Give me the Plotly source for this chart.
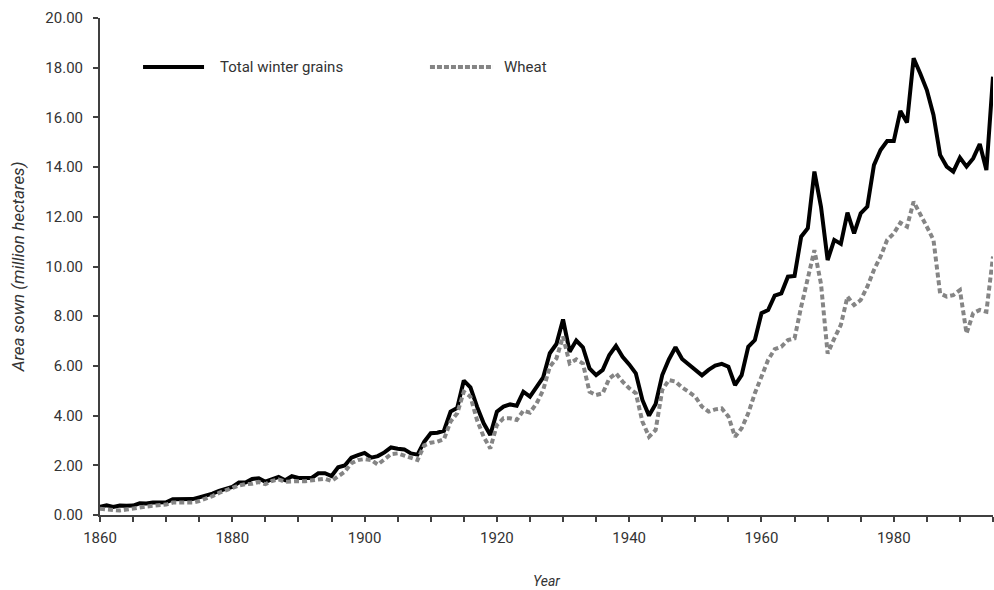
import plotly.graph_objects as go

years = list(range(1860, 1996))

total_winter_grains = [
    0.33, 0.39, 0.32, 0.38, 0.37, 0.38, 0.47, 0.46, 0.50, 0.50,   # 1860-1869
    0.51, 0.63, 0.63, 0.63, 0.64, 0.71, 0.78, 0.86, 0.97, 1.06,   # 1870-1879
    1.13, 1.31, 1.31, 1.45, 1.48, 1.34, 1.45, 1.53, 1.40, 1.56,   # 1880-1889
    1.49, 1.48, 1.49, 1.68, 1.68, 1.57, 1.92, 1.99, 2.31, 2.41,   # 1890-1899
    2.50, 2.31, 2.37, 2.52, 2.72, 2.67, 2.64, 2.48, 2.43, 2.94,   # 1900-1909
    3.29, 3.31, 3.39, 4.16, 4.31, 5.41, 5.14, 4.36, 3.69, 3.22,   # 1910-1919
    4.16, 4.36, 4.45, 4.40, 4.96, 4.76, 5.16, 5.54, 6.51, 6.88,   # 1920-1929
    7.87, 6.57, 7.02, 6.75, 5.90, 5.63, 5.84, 6.44, 6.81, 6.37,   # 1930-1939
    6.06, 5.70, 4.63, 4.00, 4.47, 5.63, 6.26, 6.75, 6.28, 6.07,   # 1940-1949
    5.83, 5.62, 5.84, 6.01, 6.08, 5.97, 5.23, 5.63, 6.77, 7.04,   # 1950-1959
    8.12, 8.25, 8.83, 8.92, 9.59, 9.62, 11.20, 11.54, 13.82, 12.40,  # 1960-1969
    10.26, 11.07, 10.91, 12.17, 11.33, 12.14, 12.41, 14.08, 14.69, 15.05,  # 1970-1979
    15.05, 16.26, 15.79, 18.38, 17.77, 17.10, 16.10, 14.49, 14.02, 13.82,  # 1980-1989
    14.38, 14.02, 14.35, 14.93, 13.88, 17.64,                      # 1990-1995
]

wheat = [
    0.25, 0.22, 0.18, 0.18, 0.22, 0.27, 0.32, 0.34, 0.37, 0.40,   # 1860-1869
    0.42, 0.50, 0.50, 0.50, 0.50, 0.56, 0.65, 0.76, 0.89, 1.00,   # 1870-1879
    1.12, 1.19, 1.24, 1.26, 1.33, 1.24, 1.37, 1.43, 1.34, 1.37,   # 1880-1889
    1.36, 1.36, 1.40, 1.46, 1.46, 1.37, 1.54, 1.74, 2.08, 2.21,   # 1890-1899
    2.25, 2.21, 2.03, 2.25, 2.45, 2.48, 2.40, 2.28, 2.21, 2.80,   # 1900-1909
    2.91, 2.95, 3.05, 3.76, 4.09, 4.96, 4.76, 3.82, 3.15, 2.68,   # 1910-1919
    3.62, 3.89, 3.89, 3.82, 4.20, 4.12, 4.49, 5.03, 5.97, 6.30,   # 1920-1929
    7.18, 6.10, 6.26, 6.10, 4.96, 4.83, 4.90, 5.50, 5.70, 5.37,   # 1930-1939
    5.10, 4.90, 3.76, 3.15, 3.42, 5.03, 5.43, 5.37, 5.13, 4.96,   # 1940-1949
    4.76, 4.36, 4.16, 4.25, 4.29, 3.96, 3.15, 3.49, 4.09, 4.90,   # 1950-1959
    5.57, 6.24, 6.67, 6.77, 7.04, 7.11, 8.38, 9.59, 10.66, 9.30,  # 1960-1969
    6.50, 7.10, 7.65, 8.79, 8.45, 8.65, 9.19, 9.86, 10.40, 11.07, # 1970-1979
    11.33, 11.76, 11.60, 12.61, 12.14, 11.60, 11.07, 8.92, 8.79, 8.85,  # 1980-1989
    9.05, 7.31, 8.12, 8.25, 8.18, 10.40,                          # 1990-1995
]

x_tick_vals = [1860, 1880, 1900, 1920, 1940, 1960, 1980]
x_tick_text = ["1860", "1880", "1900", "1920", "1940", "1960", "1980"]
y_tick_vals = [0, 2, 4, 6, 8, 10, 12, 14, 16, 18, 20]

series_names = ["Total winter grains", "Wheat"]

FONT = "Roboto, Liberation Sans, sans-serif"
TXT = "#333333"
AXC = "#404040"

fig = go.Figure()
fig.add_trace(go.Scatter(
    x=years, y=total_winter_grains, mode="lines", name=series_names[0],
    line=dict(color="#000000", width=4), showlegend=False,
))
fig.add_trace(go.Scatter(
    x=years, y=wheat, mode="lines", name=series_names[1],
    line=dict(color="#858585", width=4, dash="5px,3px"), showlegend=False,
))

# Legend drawn manually (paper coordinates)
leg_y = 0.9014
fig.add_shape(type="line", xref="paper", yref="paper", x0=0.0482, x1=0.1165,
              y0=leg_y, y1=leg_y, line=dict(color="#000000", width=4))
fig.add_shape(type="line", xref="paper", yref="paper", x0=0.3695, x1=0.4401,
              y0=leg_y, y1=leg_y, line=dict(color="#858585", width=4, dash="5px,2px"))
fig.add_annotation(xref="paper", yref="paper", x=0.1321, y=leg_y, xanchor="left",
                   yanchor="middle", text=series_names[0], showarrow=False,
                   font=dict(family=FONT, size=15, color=TXT))
fig.add_annotation(xref="paper", yref="paper", x=0.4507, y=leg_y, xanchor="left",
                   yanchor="middle", text=series_names[1], showarrow=False,
                   font=dict(family=FONT, size=15, color=TXT))

fig.update_layout(
    width=994, height=590,
    margin=dict(l=100, r=1, t=18, b=75, autoexpand=False),
    paper_bgcolor="white", plot_bgcolor="white",
    font=dict(family=FONT, size=15, color=TXT),
    showlegend=False,
)
fig.update_xaxes(
    range=[1860, 1995], showgrid=False, zeroline=False, automargin=False,
    showline=True, linecolor=AXC, linewidth=2,
    tickmode="array", tickvals=x_tick_vals, ticktext=x_tick_text,
    ticks="outside", ticklen=5, tickwidth=2, tickcolor=AXC,
    ticklabelstandoff=3,
    minor=dict(dtick=5, tick0=1860, ticks="outside", ticklen=5, tickwidth=2, tickcolor=AXC),
    tickfont=dict(family=FONT, size=15, color=TXT),
    title=dict(text="Year", standoff=30, font=dict(family=FONT, size=14, color=TXT, style="italic")),
)
fig.update_yaxes(
    range=[0, 20], showgrid=False, zeroline=False, automargin=False,
    showline=True, linecolor=AXC, linewidth=2,
    tickmode="array", tickvals=y_tick_vals, tickformat=".2f",
    ticks="outside", ticklen=5, tickwidth=2, tickcolor=AXC,
    ticklabelstandoff=7,
    tickfont=dict(family=FONT, size=15, color=TXT),
    title=dict(text="Area sown (million hectares)", standoff=16,
               font=dict(family=FONT, size=17, color=TXT, style="italic")),
)

# Remove the default 8px page margin so the 994x590 figure fills the window exactly.
fig.write_html("out.html", config={"displayModeBar": False},
               post_script="document.body.style.margin='0';")
